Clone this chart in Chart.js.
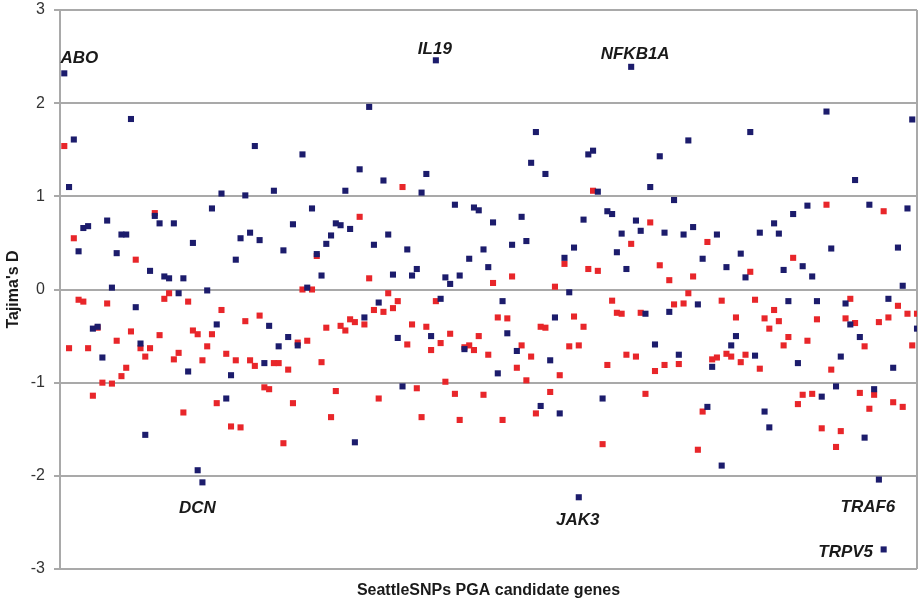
<!DOCTYPE html>
<html>
<head>
<meta charset="utf-8">
<script src="https://cdn.jsdelivr.net/npm/chart.js@4/dist/chart.umd.min.js"></script>
<style>
  html, body { margin: 0; padding: 0; background: #fff; }
  #wrap { width: 920px; height: 610px; }
</style>
</head>
<body>
<div id="wrap"><canvas id="c" width="920" height="610"></canvas></div>
<script>
// Tajima's D per candidate gene, two populations (blue / red), 180 genes in plot order
const blueD = [
  2.32, 1.10, 1.61, 0.41, 0.66, 0.68, -0.42, -0.40, -0.73, 0.74,
  0.02, 0.39, 0.59, 0.59, 1.83, -0.19, -0.58, -1.56, 0.20, 0.79,
  0.71, 0.14, 0.12, 0.71, -0.04, 0.12, -0.88, 0.50, -1.94, -2.07,
  -0.01, 0.87, -0.375, 1.03, -1.17, -0.92, 0.32, 0.55, 1.01, 0.61,
  1.54, 0.53, -0.79, -0.39, 1.06, -0.61, 0.42, -0.51, 0.70, -0.60,
  1.45, 0.02, 0.87, 0.38, 0.15, 0.49, 0.58, 0.71, 0.69, 1.06,
  0.65, -1.64, 1.29, -0.30, 1.96, 0.48, -0.14, 1.17, 0.59, 0.16,
  -0.52, -1.04, 0.43, 0.15, 0.22, 1.04, 1.24, -0.50, 2.46, -0.10,
  0.13, 0.06, 0.91, 0.15, -0.64, 0.33, 0.88, 0.85, 0.43, 0.24,
  0.72, -0.90, -0.125, -0.47, 0.48, -0.66, 0.78, 0.52, 1.36, 1.69,
  -1.25, 1.24, -0.76, -0.30, -1.33, 0.34, -0.03, 0.45, -2.23, 0.75,
  1.45, 1.49, 1.05, -1.17, 0.84, 0.81, 0.40, 0.60, 0.22, 2.39,
  0.74, 0.63, -0.26, 1.10, -0.59, 1.43, 0.61, -0.24, 0.96, -0.70,
  0.59, 1.60, 0.67, -0.16, 0.33, -1.26, -0.83, 0.59, -1.89, 0.24,
  -0.60, -0.50, 0.385, 0.13, 1.69, -0.71, 0.61, -1.31, -1.48, 0.71,
  0.60, 0.21, -0.125, 0.81, -0.79, 0.25, 0.90, 0.14, -0.125, -1.15,
  1.91, 0.44, -1.04, -0.72, -0.15, -0.375, 1.175, -0.51, -1.59, 0.91,
  -1.07, -2.04, -2.79, -0.10, -0.84, 0.45, 0.04, 0.87, 1.825, -0.42
];
const redD = [
  1.54, -0.63, 0.55, -0.11, -0.13, -0.63, -1.14, -0.41, -1.00, -0.15,
  -1.01, -0.55, -0.93, -0.84, -0.45, 0.32, -0.63, -0.72, -0.63, 0.82,
  -0.49, -0.10, -0.04, -0.75, -0.68, -1.32, -0.13, -0.44, -0.48, -0.76,
  -0.61, -0.48, -1.22, -0.22, -0.69, -1.47, -0.76, -1.48, -0.34, -0.76,
  -0.82, -0.28, -1.05, -1.07, -0.79, -0.79, -1.65, -0.86, -1.22, -0.57,
  0.00, -0.55, 0.00, 0.36, -0.78, -0.41, -1.37, -1.09, -0.39, -0.44,
  -0.32, -0.35, 0.78, -0.375, 0.12, -0.22, -1.17, -0.24, -0.04, -0.20,
  -0.125, 1.10, -0.59, -0.375, -1.06, -1.37, -0.40, -0.65, -0.125, -0.575,
  -0.99, -0.475, -1.12, -1.40, -0.62, -0.60, -0.65, -0.50, -1.13, -0.70,
  0.07, -0.30, -1.40, -0.31, 0.14, -0.84, -0.60, -0.975, -0.72, -1.33,
  -0.40, -0.41, -1.10, 0.03, -0.92, 0.275, -0.61, -0.29, -0.60, -0.40,
  0.22, 1.06, 0.20, -1.66, -0.81, -0.12, -0.25, -0.26, -0.70, 0.49,
  -0.72, -0.25, -1.12, 0.72, -0.875, 0.26, -0.81, 0.10, -0.16, -0.80,
  -0.15, -0.04, 0.14, -1.72, -1.31, 0.51, -0.75, -0.73, -0.12, -0.69,
  -0.72, -0.30, -0.78, -0.70, 0.19, -0.11, -0.85, -0.31, -0.42, -0.22,
  -0.34, -0.60, -0.51, 0.34, -1.23, -1.13, -0.55, -1.12, -0.32, -1.49,
  0.91, -0.86, -1.69, -1.52, -0.31, -0.10, -0.36, -1.11, -0.61, -1.28,
  -1.13, -0.35, 0.84, -0.30, -1.21, -0.175, -1.26, -0.26, -0.60, -0.26
];
const yTicks = [-3, -2, -1, 0, 1, 2, 3];
// highlighted genes and the plot index of the point they name
const labelGenes = ['ABO', 'IL19', 'NFKB1A', 'DCN', 'JAK3', 'TRAF6', 'TRPV5'];
const labelIdx = [0, 78, 119, 29, 108, 171, 172];

const BLUE = '#1c1c6c';
const RED = '#e8262a';
const GRID = '#a9a9a9';

const toPts = arr => arr.map((v, i) => ({ x: i, y: v }));

// text offsets (px) from the named point
const labelOffsets = {
  ABO: [15, -15], IL19: [-1, -11], NFKB1A: [4, -13], DCN: [-5, 26],
  JAK3: [-1, 23], TRAF6: [-11, 28], TRPV5: [-38, 3]
};

const geneLabels = {
  id: 'geneLabels',
  afterDatasetsDraw(chart) {
    const { ctx, scales: { x, y } } = chart;
    ctx.save();
    ctx.font = 'italic bold 17px "Liberation Sans", Arial, sans-serif';
    ctx.fillStyle = '#1a1a1a';
    ctx.textAlign = 'center';
    ctx.textBaseline = 'middle';
    labelGenes.forEach((g, k) => {
      const i = labelIdx[k];
      const off = labelOffsets[g];
      ctx.fillText(g, x.getPixelForValue(i) + off[0], y.getPixelForValue(blueD[i]) + off[1]);
    });
    ctx.restore();
  }
};

const rightEdge = {
  id: 'rightEdge',
  beforeDatasetsDraw(chart) {
    const { ctx, chartArea: a } = chart;
    ctx.save();
    ctx.strokeStyle = GRID;
    ctx.lineWidth = 2;
    ctx.beginPath();
    ctx.moveTo(a.right, a.top);
    ctx.lineTo(a.right, a.bottom);
    ctx.stroke();
    ctx.restore();
  }
};

new Chart(document.getElementById('c'), {
  type: 'scatter',
  data: {
    datasets: [
      {
        label: 'blue',
        data: toPts(blueD),
        backgroundColor: BLUE,
        borderWidth: 0,
        pointStyle: 'rect',
        pointRadius: 4.3
      },
      {
        label: 'red',
        data: toPts(redD),
        backgroundColor: RED,
        borderWidth: 0,
        pointStyle: 'rect',
        pointRadius: 4.3
      }
    ]
  },
  options: {
    responsive: false,
    animation: false,
    devicePixelRatio: 1,
    layout: { autoPadding: false, padding: { top: 10, right: 3, left: 0, bottom: 0 } },
    plugins: { legend: { display: false }, tooltip: { enabled: false } },
    scales: {
      x: {
        type: 'linear',
        min: -0.9,
        max: 179,
        grid: { display: false },
        border: { display: false },
        ticks: { display: false },
        title: {
          display: true,
          text: 'SeattleSNPs PGA candidate genes',
          color: '#1a1a1a',
          font: { family: '"Liberation Sans", Arial, sans-serif', size: 16, weight: 'bold' },
          padding: { top: 0, bottom: 10 }
        },
        afterFit(s) { s.height = 41; s.paddingLeft = 0; s.paddingRight = 0; }
      },
      y: {
        min: -3,
        max: 3,
        afterBuildTicks(s) { s.ticks = yTicks.map(v => ({ value: v })); },
        grid: { color: GRID, lineWidth: 2, tickLength: 6 },
        border: { display: true, color: GRID, width: 2 },
        ticks: {
          color: '#333',
          padding: 9,
          font: { family: '"Liberation Sans", Arial, sans-serif', size: 16 }
        },
        title: {
          display: true,
          text: "Tajima's D",
          color: '#1a1a1a',
          font: { family: '"Liberation Sans", Arial, sans-serif', size: 16, weight: 'bold' },
          padding: { top: 4, bottom: 0 }
        },
        afterFit(s) { s.width = 60; s.paddingTop = 0; s.paddingBottom = 0; }
      }
    }
  },
  plugins: [rightEdge, geneLabels]
});
</script>
</body>
</html>
